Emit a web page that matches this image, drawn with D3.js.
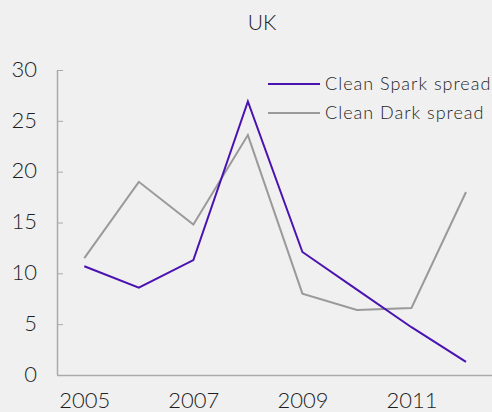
<!DOCTYPE html>
<html><head><meta charset="utf-8">
<script src="https://cdn.jsdelivr.net/npm/d3@7"></script>
<style>body{margin:0;background:#f0f0f0;}svg{display:block;}text{font-family:"Lato","Open Sans",sans-serif;font-weight:300;fill:#1e1e1e;}</style>
</head><body><svg id="c" width="492" height="412"></svg>
<script>
const years = [2005, 2006, 2007, 2008, 2009, 2010, 2011, 2012];
const sparkSpread = [10.7, 8.6, 11.3, 26.9, 12.1, 8.4, 4.7, 1.3];
const darkSpread = [11.5, 19.0, 14.8, 23.6, 8.0, 6.4, 6.6, 18.0];
const yTicks = [0, 5, 10, 15, 20, 25, 30];
const xTickLabels = [2005, 2007, 2009, 2011];
const seriesNames = ["Clean Spark spread", "Clean Dark spread"];
const colors = ["#4a12b0", "#9a9a9a"];

const svg = d3.select("#c");
const x = d3.scaleLinear().domain([2005, 2012]).range([84.3, 466]);
const y = d3.scaleLinear().domain([0, 30]).range([375, 70]);

svg.append("text").attr("x", 262).attr("y", 30).attr("text-anchor", "middle")
  .style("font-size", "21px").text("UK");

// y axis
const ya = svg.append("g").attr("transform", "translate(57,0)")
  .call(d3.axisRight(y).tickValues(yTicks).tickSize(6).tickFormat(d3.format("d")));
ya.select(".domain").remove();
ya.selectAll(".tick line").attr("stroke", "#aaa");
ya.selectAll(".tick text").attr("x", -20).attr("text-anchor", "end").attr("dy", "0.28em")
  .style("font-size", "22px").attr("fill", "#1e1e1e");
svg.append("line").attr("x1", 57.5).attr("x2", 57.5).attr("y1", y(30)).attr("y2", y(0))
  .attr("stroke", "#aaa").attr("stroke-width", 1.5);

// x axis
svg.append("line").attr("x1", 57).attr("x2", 492).attr("y1", y(0)+0.5).attr("y2", y(0)+0.5)
  .attr("stroke", "#aaa").attr("stroke-width", 1.5);
const xa = svg.append("g").attr("transform", `translate(0,${y(0)})`)
  .call(d3.axisBottom(x).tickValues(xTickLabels).tickSize(0).tickFormat(d3.format("d")));
xa.select(".domain").remove();
xa.selectAll(".tick text").attr("y", 33).attr("dy", "0").style("font-size", "22px").attr("fill", "#1e1e1e");

const line = d3.line().x((d, i) => x(years[i])).y(d => y(d));
[darkSpread, sparkSpread].forEach((s, k) => {
  const idx = k === 0 ? 1 : 0;
  svg.append("path").datum(s).attr("d", line).attr("fill", "none")
    .attr("stroke", colors[idx]).attr("stroke-width", 2);
});

// legend
seriesNames.forEach((n, i) => {
  const ly = 84 + i * 29;
  svg.append("line").attr("x1", 268).attr("x2", 320).attr("y1", ly).attr("y2", ly)
    .attr("stroke", colors[i]).attr("stroke-width", 2);
  svg.append("text").attr("x", 325).attr("y", ly).attr("dy", "0.35em")
    .style("font-size", "18px").style("letter-spacing", "1px").text(n);
});
</script></body></html>
